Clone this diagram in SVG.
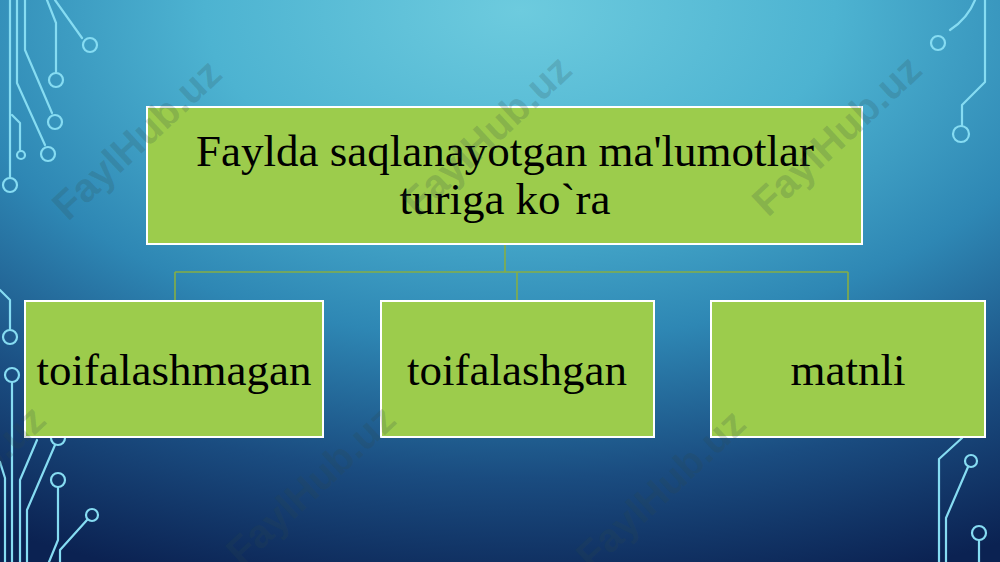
<svg xmlns="http://www.w3.org/2000/svg" width="1000" height="562" viewBox="0 0 1000 562">
<defs>
<radialGradient id="bg" gradientUnits="userSpaceOnUse" cx="520" cy="10" r="1000" gradientTransform="translate(520 10) scale(1.05 0.6) translate(-520 -10)">
<stop offset="0" stop-color="#6DCBDE"/>
<stop offset="0.3" stop-color="#4DB3D1"/>
<stop offset="0.55" stop-color="#2E87B4"/>
<stop offset="0.78" stop-color="#1A4C80"/>
<stop offset="1" stop-color="#0B2252"/>
</radialGradient>
<style>
.c{fill:none;stroke:#86DCF2;stroke-width:2.2;stroke-linecap:round;stroke-linejoin:round}
.box{fill:#9CCC4C;stroke:#FFFFFF;stroke-width:2}
.t{font-family:"Liberation Serif","Times New Roman",serif;font-size:45px;fill:#000;text-anchor:middle}
.con{fill:none;stroke:#86AE44;stroke-width:1.6}
.wm{font-family:"Liberation Sans",Arial,sans-serif;font-weight:bold;font-size:40px;fill:#2E4A4A;fill-opacity:0.2}
</style>
</defs>
<rect x="0" y="0" width="1000" height="562" fill="url(#bg)"/>
<g id="circuits">
<path class="c" d="M10 0 V178"/><circle class="c" cx="10" cy="185" r="7"/>
<path class="c" d="M17 0 V83 L45 145"/><circle class="c" cx="48" cy="154" r="7"/>
<path class="c" d="M25 0 V50 L52 113"/><circle class="c" cx="55" cy="122" r="7"/>
<path class="c" d="M47 0 L56 23 V73"/><circle class="c" cx="56" cy="80" r="7"/>
<path class="c" d="M55 0 L82 38"/><circle class="c" cx="90" cy="45" r="7"/>
<path class="c" d="M12 115 L20 123 V150"/><circle class="c" cx="21" cy="155" r="4"/>
<path class="c" d="M0 290 L10 300 V330"/><circle class="c" cx="10" cy="337" r="7"/>
<circle class="c" cx="12" cy="375" r="7"/><path class="c" d="M12 382 V562"/>
<path class="c" d="M0 462 L5 478 V562"/>
<path class="c" d="M20 562 V480 L37 440"/>
<path class="c" d="M27 562 V510 L55 445"/><circle class="c" cx="58" cy="438" r="7"/>
<circle class="c" cx="58" cy="480" r="7"/><path class="c" d="M58 487 V540 L49 562"/>
<circle class="c" cx="92" cy="515" r="6"/><path class="c" d="M87 520 L60 550 V562"/>
<path class="c" d="M975 0 Q968 18 950 30"/><circle class="c" cx="938" cy="43" r="7"/>
<path class="c" d="M985 0 V82 L962 105 V126"/><circle class="c" cx="961" cy="134" r="8"/>
<path class="c" d="M962 438 L939 459 V562"/>
<circle class="c" cx="971" cy="461" r="6"/><path class="c" d="M968 467 L946 518 V562"/>
<circle class="c" cx="979" cy="533" r="7"/><path class="c" d="M979 540 V562"/>
</g>
<g id="connectors">
<path class="con" d="M505 244 V272"/>
<path class="con" d="M175 272 H848"/>
<path class="con" d="M175 272 V301"/>
<path class="con" d="M517 272 V301"/>
<path class="con" d="M848 272 V301"/>
</g>
<g id="root">
<rect class="box" x="147" y="107" width="715" height="137"/>
<text class="t" x="505" y="166">Faylda saqlanayotgan ma'lumotlar</text>
<text class="t" x="505" y="214">turiga ko`ra</text>
</g>
<g id="n1">
<rect class="box" x="25" y="301" width="298" height="136"/>
<text class="t" x="174" y="385">toifalashmagan</text>
</g>
<g id="n2">
<rect class="box" x="381" y="301" width="273" height="136"/>
<text class="t" x="517" y="385">toifalashgan</text>
</g>
<g id="n3">
<rect class="box" x="711" y="301" width="274" height="136"/>
<text class="t" x="848" y="385">matnli</text>
</g>
<g id="watermarks">
<text class="wm" transform="translate(68 222) rotate(-43)">FaylHub.uz</text>
<text class="wm" transform="translate(418 218) rotate(-43)">FaylHub.uz</text>
<text class="wm" transform="translate(768 218) rotate(-43)">FaylHub.uz</text>
<text class="wm" transform="translate(-108 568) rotate(-43)">FaylHub.uz</text>
<text class="wm" transform="translate(242 568) rotate(-43)">FaylHub.uz</text>
<text class="wm" transform="translate(592 572) rotate(-43)">FaylHub.uz</text>
</g>
</svg>
